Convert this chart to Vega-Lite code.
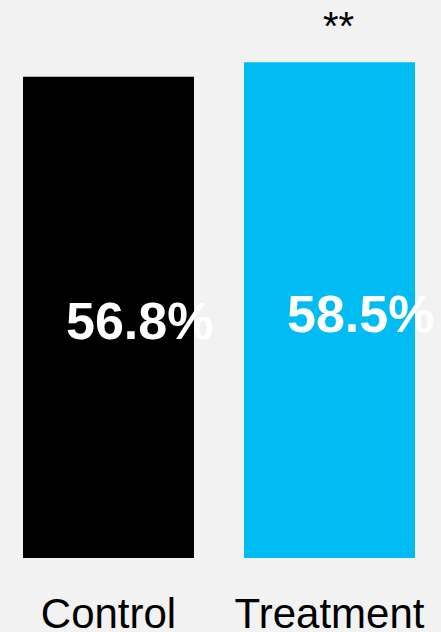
{
  "$schema": "https://vega.github.io/schema/vega-lite/v6.json",
  "width": 441,
  "height": 558,
  "autosize": {"type": "none"},
  "padding": {"left": 0, "top": 0, "right": 0, "bottom": 74},
  "background": "#f2f2f2",
  "config": {"view": {"stroke": null}, "font": "Liberation Sans"},
  "data": {
    "values": [
      {"category": "Control", "value": 56.8, "label": "56.8%", "sig": ""},
      {"category": "Treatment", "value": 58.5, "label": "58.5%", "sig": "**"}
    ]
  },
  "resolve": {"scale": {"y": "independent"}},
  "layer": [
    {
      "mark": {"type": "bar"},
      "encoding": {
        "x": {
          "field": "category", "type": "nominal", "sort": null,
          "scale": {"range": [23, 415], "paddingInner": 0.2262, "paddingOuter": 0},
          "axis": {"title": null, "domain": false, "ticks": false, "labelAngle": 0, "labelFontSize": 42, "labelColor": "#000000", "labelPadding": 36, "labelLimit": 0, "labelOverlap": false, "labelFont": "Liberation Sans"}
        },
        "y": {"field": "value", "type": "quantitative", "scale": {"domain": [0, 65.85], "nice": false}, "axis": null},
        "color": {"field": "category", "type": "nominal", "scale": {"domain": ["Control", "Treatment"], "range": ["#000000", "#00bcf2"]}, "legend": null}
      }
    },
    {
      "mark": {"type": "text", "align": "left", "baseline": "alphabetic", "dx": 43, "dy": 22, "fontSize": 52, "fontWeight": "bold", "color": "#ffffff", "font": "Liberation Sans"},
      "encoding": {
        "x": {"field": "category", "type": "nominal", "sort": null, "bandPosition": 0},
        "y": {"field": "value", "type": "quantitative", "scale": {"domain": [0, 131.7], "nice": false}, "axis": null},
        "text": {"field": "label"}
      }
    },
    {
      "mark": {"type": "text", "align": "center", "baseline": "alphabetic", "dx": 9, "dy": -22, "fontSize": 40, "color": "#000000", "font": "Liberation Sans"},
      "encoding": {
        "x": {"field": "category", "type": "nominal", "sort": null},
        "y": {"field": "value", "type": "quantitative", "scale": {"domain": [0, 65.85], "nice": false}, "axis": null},
        "text": {"field": "sig"}
      }
    }
  ]
}
